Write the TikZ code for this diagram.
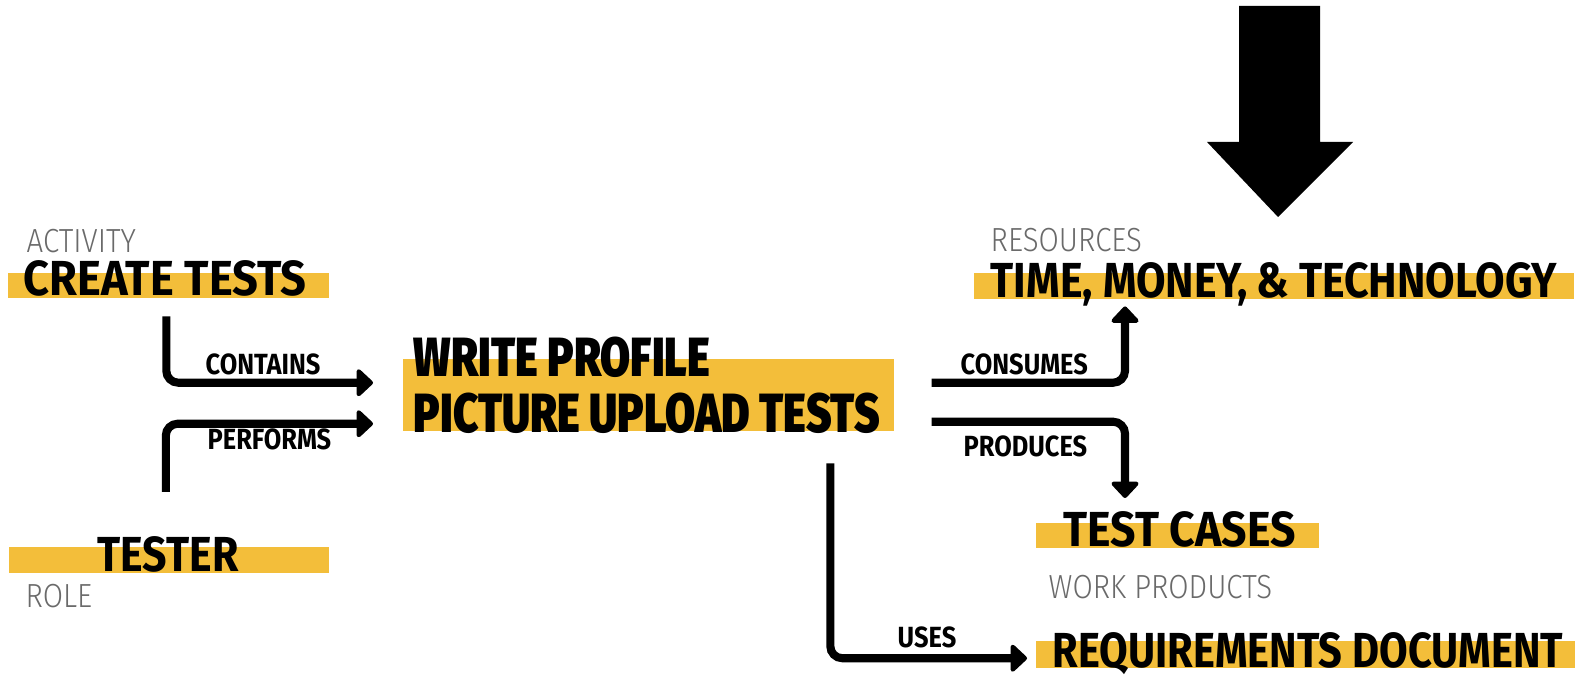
\documentclass[tikz,border=0pt]{standalone}
\usepackage{fontspec}
\usetikzlibrary{arrows.meta,calc,positioning}
\newfontfamily\titlefont[FakeStretch=0.87]{Fira Sans}
\newfontfamily\heavyfont[FakeStretch=0.79]{Fira Sans Black}
\newfontfamily\lightfont[FakeStretch=0.88]{Fira Sans Light}
\definecolor{barcolor}{HTML}{F3BE3A}
\definecolor{kindgray}{HTML}{6A6A6A}
\tikzset{
  bar/.style={fill=barcolor, inner sep=0pt, anchor=north west},
  title/.style={font=\titlefont\bfseries\fontsize{14}{14}\selectfont, inner sep=0pt, anchor=base west},
  heavy/.style={font=\heavyfont\fontsize{15.7}{15.7}\selectfont, inner sep=0pt, anchor=base west},
  kind/.style={font=\lightfont\fontsize{9.5}{9.5}\selectfont, text=kindgray, inner sep=0pt, anchor=base west},
  verb/.style={font=\titlefont\bfseries\fontsize{8.3}{8.3}\selectfont, inner sep=0pt, anchor=base west},
  flow/.style={line width=2.3pt, rounded corners=3.4pt, -{Triangle[length=5pt,width=9pt,round]}}
}
\begin{document}
\begin{tikzpicture}[x=0.01cm,y=-0.01cm]
  \useasboundingbox (0,0) rectangle (1583,683);
  % bars
  \node[bar, minimum width=3.21cm, minimum height=0.25cm] (createbar) at (7,272) {};
  \node[bar, minimum width=3.20cm, minimum height=0.26cm] (testerbar) at (8,546) {};
  \node[bar, minimum width=4.91cm, minimum height=0.72cm] (writebar) at (402,358) {};
  \node[bar, minimum width=6.00cm, minimum height=0.26cm] (timebar) at (973,272) {};
  \node[bar, minimum width=2.83cm, minimum height=0.25cm] (testbar) at (1035,522) {};
  \node[bar, minimum width=5.39cm, minimum height=0.27cm] (reqbar) at (1035,640) {};
  % texts
  \node[kind] (activity) at (26,253) {ACTIVITY};
  \node[title] (create) at (23,296) {\scalebox{1.055}[1]{CREATE TESTS}};
  \node[title] (tester) at (97,572) {TESTER};
  \node[kind] (role) at (25,607) {ROLE};
  \node[heavy] (write1) at (413,377) {WRITE PROFILE};
  \node[heavy] (write2) at (413,433) {PICTURE UPLOAD TESTS};
  \node[kind] (resources) at (990,252) {RESOURCES};
  \node[title] (time) at (990,298) {TIME, MONEY,\,\& TECHNOLOGY};
  \node[title] (test) at (1063,547) {\scalebox{1.04}[1]{TEST CASES}};
  \node[kind] (work) at (1048,598) {WORK PRODUCTS};
  \node[title] (req) at (1052,667) {\scalebox{0.97}[1]{REQUIREMENTS DOCUMENT}};
  % connectors
  \draw[flow] ($(createbar.south)+(-2,18)$) |- ($(writebar.west)+(-29,-12)$);
  \draw[flow] ($(testerbar.north)+(-3,-54)$) |- ($(writebar.west)+(-29,29)$);
  \draw[flow] ($(writebar.east)+(37,-12)$) -| ($(timebar.south west)+(152,7)$);
  \draw[flow] ($(writebar.east)+(37,27)$) -| ($(testbar.north west)+(90,-24)$);
  \draw[flow] ($(writebar.south)+(182,32)$) |- ($(reqbar.west)+(-8,4)$);
  \node[verb] (contains) at (205,375) {CONTAINS};
  \node[verb] (performs) at (207,450) {PERFORMS};
  \node[verb] (consumes) at (960,375) {CONSUMES};
  \node[verb] (produces) at (963,457) {PRODUCES};
  \node[verb] (uses) at (897,647) {USES};
  % big arrow
  \fill (1239,6) -- (1320,6) -- (1320,142) -- (1353,142) -- (1278,217) -- (1207,142) -- (1239,142) -- cycle;
\end{tikzpicture}
\end{document}
